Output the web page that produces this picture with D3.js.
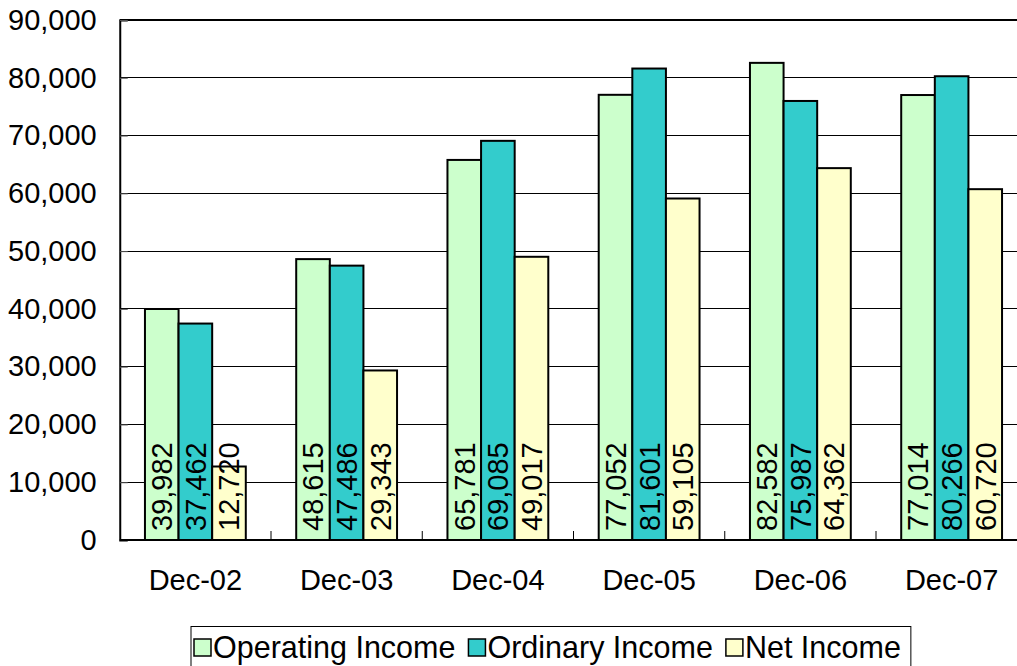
<!DOCTYPE html>
<html><head><meta charset="utf-8">
<script src="https://cdn.jsdelivr.net/npm/d3@7"></script>
<style>body{margin:0;background:#fff}svg{display:block}text{font-family:"Liberation Sans",Arial,sans-serif;fill:#000}</style>
</head><body><svg id="c" width="1017" height="666"></svg>
<script>
const categories = ["Dec-02","Dec-03","Dec-04","Dec-05","Dec-06","Dec-07"];
const seriesNames = ["Operating Income","Ordinary Income","Net Income"];
const operatingIncome = [39982,48615,65781,77052,82582,77014];
const ordinaryIncome = [37462,47486,69085,81601,75987,80266];
const netIncome = [12720,29343,49017,59105,64362,60720];
const yTicks = [0,10000,20000,30000,40000,50000,60000,70000,80000,90000];
const colors = ["#CCFFCC","#33CCCC","#FFFFCC"];
const series = [operatingIncome, ordinaryIncome, netIncome];

const svg = d3.select("#c");
const left = 119.75, band = 151.25;
const x = d3.scaleBand().domain(categories).range([left, left + band*categories.length]).paddingInner(0).paddingOuter(0);
const y = d3.scaleLinear().domain([0,90000]).range([540,20]);
const bw = x.bandwidth()/4.5;
const xs = d3.scaleBand().domain(seriesNames).range([0.75*bw, 3.75*bw]);
const fmt = d3.format(",");

// gridlines
svg.append("g").selectAll("line").data(yTicks.filter(d=>d>0 && d<90000)).join("line")
  .attr("x1", left).attr("x2", 1017).attr("y1", d=>y(d)).attr("y2", d=>y(d))
  .attr("stroke","#000").attr("stroke-width",1).attr("shape-rendering","crispEdges");
// top border
svg.append("line").attr("x1",left).attr("x2",1017).attr("y1",y(90000)).attr("y2",y(90000))
  .attr("stroke","#000").attr("stroke-width",2);

// bars
const g = svg.append("g");
categories.forEach((c,i)=>{
  series.forEach((s,j)=>{
    g.append("rect")
      .attr("x", x(c)+xs(seriesNames[j])).attr("width", xs.bandwidth())
      .attr("y", y(s[i])).attr("height", y(0)-y(s[i]))
      .attr("fill", colors[j]).attr("stroke","#000").attr("stroke-width",2);
  });
});
// labels
categories.forEach((c,i)=>{
  series.forEach((s,j)=>{
    const cx = x(c)+xs(seriesNames[j])+xs.bandwidth()/2;
    g.append("text").attr("transform",`translate(${cx},${y(0)-9}) rotate(-90)`)
      .attr("dy","0.36em").attr("font-size",29).text(fmt(s[i]));
  });
});

// y axis
const ya = d3.axisLeft(y).tickValues(yTicks).tickFormat(fmt).tickSize(-8).tickPadding(23);
const yg = svg.append("g").attr("transform",`translate(${left},0)`).call(ya);
yg.select(".domain").attr("stroke","#000").attr("stroke-width",2);
yg.selectAll(".tick line").attr("stroke","#555");
yg.selectAll(".tick text").attr("font-size",29).attr("font-family","Liberation Sans, Arial, sans-serif").attr("fill","#000");

// x axis
const xg = svg.append("g").attr("transform",`translate(0,${y(0)})`);
xg.append("line").attr("x1",left).attr("x2",1017).attr("stroke","#000").attr("stroke-width",2);
xg.selectAll("line.t").data(categories.slice(1)).join("line").attr("class","t")
  .attr("x1",d=>x(d)).attr("x2",d=>x(d)).attr("y1",0).attr("y2",-9).attr("stroke","#000").attr("stroke-width",1);
xg.selectAll("text").data(categories).join("text")
  .attr("x",d=>x(d)+x.bandwidth()/2).attr("y",50).attr("text-anchor","middle").attr("font-size",29).text(d=>d);

// legend
const lg = svg.append("g");
const box = lg.append("rect").attr("x",191).attr("y",626.5).attr("height",60).attr("fill","#fff").attr("stroke","#000").attr("stroke-width",1);
let cx = 194;
seriesNames.forEach((n,j)=>{
  lg.append("rect").attr("x",cx).attr("y",639).attr("width",17).attr("height",17)
    .attr("fill",colors[j]).attr("stroke","#000").attr("stroke-width",1.5);
  const t = lg.append("text").attr("x",cx+19).attr("y",658).attr("font-size",30.5).text(n);
  cx += 19 + t.node().getComputedTextLength() + 13;
});
box.attr("width", cx - 13 + 10 - 191);
</script></body></html>
